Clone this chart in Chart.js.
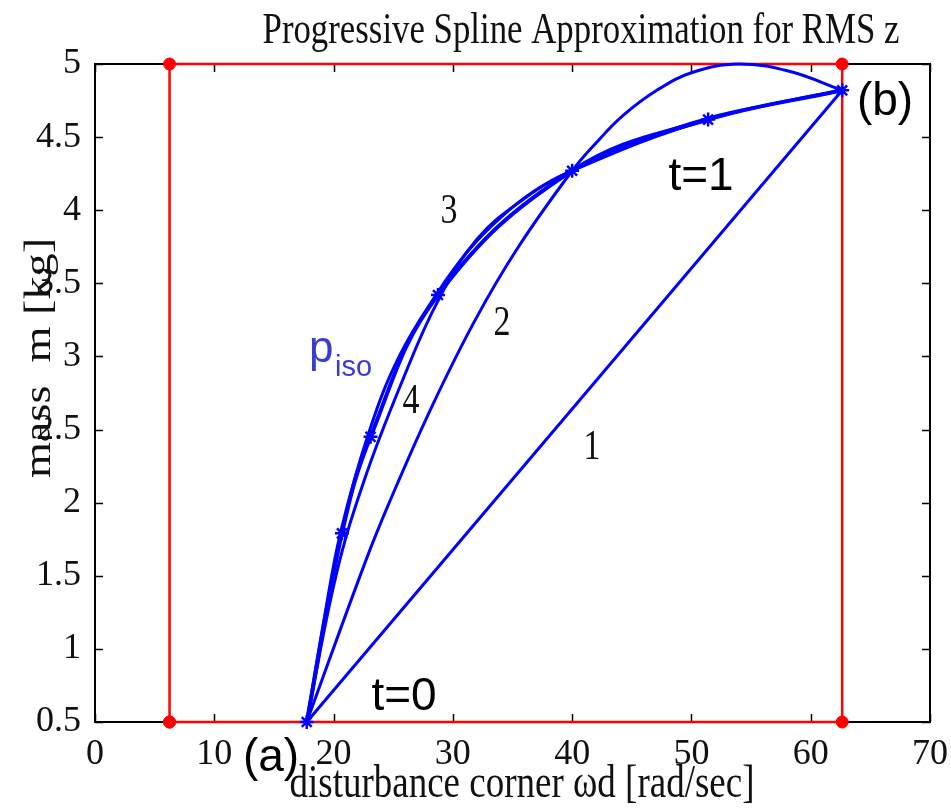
<!DOCTYPE html>
<html>
<head>
<meta charset="utf-8">
<script src="https://cdn.jsdelivr.net/npm/chart.js@4/dist/chart.umd.min.js"></script>
<style>
  html, body { margin: 0; padding: 0; background: #ffffff; }
  #wrap { width: 951px; height: 808px; }
</style>
</head>
<body>
<div id="wrap"><canvas id="c" width="951" height="808"></canvas></div>
<script>
// Axis ticks
const xTicks = [0, 10, 20, 30, 40, 50, 60, 70];
const yTicks = [0.5, 1, 1.5, 2, 2.5, 3, 3.5, 4, 4.5, 5];

// Design box (red): corners of the search region
const boxX = [6.25, 6.25, 62.64, 62.64, 6.25];
const boxY = [0.5, 5, 5, 0.5, 0.5];

// Iteration 1: straight segment between the end points
const line1X = [17.75, 62.64];
const line1Y = [0.5, 4.82];

// Iteration 2
const curve2X = [17.75, 22.64, 24.72, 28.2, 31.81, 35.42, 40.0, 42.0, 44.3, 47.1, 50.0, 54.0, 58.2, 62.64];
const curve2Y = [0.5, 1.59, 2.01, 2.65, 3.24, 3.74, 4.27, 4.46, 4.65, 4.82, 4.94, 5.0, 4.95, 4.82];

// Iteration 3
const curve3X = [17.75, 19.2, 20.6, 23.0, 25.5, 28.75, 31.25, 34.0, 36.8, 40.0, 45.5, 51.4, 57.0, 62.64];
const curve3Y = [0.5, 1.2, 1.8, 2.49, 3.0, 3.44, 3.72, 3.95, 4.13, 4.27, 4.47, 4.63, 4.73, 4.82];

// Iteration 4
const curve4X = [17.75, 20.2, 22.6, 25.8, 28.75, 32.0, 36.0, 40.0, 51.4, 62.64];
const curve4Y = [0.5, 1.5, 2.16, 2.84, 3.38, 3.8, 4.08, 4.27, 4.62, 4.82];

// Converged spline through the knots (t = 0 ... t = 1)
const knotX = [17.75, 20.7, 23.1, 28.75, 40.0, 51.4, 62.64];
const knotY = [0.5, 1.79, 2.45, 3.42, 4.27, 4.62, 4.82];

// End points (a) and (b)
const endX = [17.75, 62.64];
const endY = [0.5, 4.82];

const pts = (xs, ys) => xs.map((x, i) => ({ x, y: ys[i] }));

const BLUE = '#0000ff';
const RED = '#ff0000';
const SERIF = '"Liberation Serif", "Times New Roman", serif';
const SANS = '"Liberation Sans", Arial, sans-serif';

function curve(data, width, order) {
  return {
    data, showLine: true, borderColor: BLUE, backgroundColor: BLUE,
    borderWidth: width, pointRadius: 0, tension: 0.4,
    clip: false, order
  };
}

// Draws the axes box with inward ticks on all four sides
function drawFrame(chart) {
  const { ctx, chartArea: a, scales } = chart;
  const tl = 8;
  ctx.save();
  ctx.strokeStyle = '#000';
  ctx.lineWidth = 2;
  ctx.strokeRect(a.left, a.top, a.right - a.left, a.bottom - a.top);
  ctx.lineWidth = 1.5;
  ctx.beginPath();
  xTicks.forEach(v => {
    const px = Math.round(scales.x.getPixelForValue(v)) + 0.5;
    ctx.moveTo(px, a.bottom); ctx.lineTo(px, a.bottom - tl);
    ctx.moveTo(px, a.top); ctx.lineTo(px, a.top + tl);
  });
  yTicks.forEach(v => {
    const py = Math.round(scales.y.getPixelForValue(v)) + 0.5;
    ctx.moveTo(a.left, py); ctx.lineTo(a.left + tl, py);
    ctx.moveTo(a.right, py); ctx.lineTo(a.right - tl, py);
  });
  ctx.stroke();
  ctx.restore();
}

// Serif text with the tall proportions of the figure's lettering
function serifText(ctx, text, x, y, size, opts = {}) {
  ctx.save();
  ctx.translate(x, y);
  ctx.scale(1, opts.stretch || 1.25);
  ctx.font = size + 'px ' + SERIF;
  ctx.fillStyle = opts.color || '#111';
  ctx.textAlign = opts.align || 'center';
  ctx.textBaseline = opts.baseline || 'alphabetic';
  ctx.fillText(text, 0, 0);
  ctx.restore();
}

function sansText(ctx, text, x, y, size, color, align) {
  ctx.save();
  ctx.font = size + 'px ' + SANS;
  ctx.fillStyle = color || '#000';
  ctx.textAlign = align || 'center';
  ctx.textBaseline = 'alphabetic';
  ctx.fillText(text, x, y);
  ctx.restore();
}

const framePlugin = {
  id: 'frame',
  beforeDatasetsDraw(chart) { drawFrame(chart); },
  afterDraw(chart) {
    const ctx = chart.ctx;
    // title and axis titles
    serifText(ctx, 'Progressive Spline Approximation for RMS z', 581, 43, 34.8, { stretch: 1.3 });
    serifText(ctx, 'disturbance corner \u03c9d [rad/sec]', 522, 797, 37);
    ctx.save();
    ctx.translate(50, 358);
    ctx.rotate(-Math.PI / 2);
    ctx.scale(1.25, 1);
    ctx.font = '37px ' + SERIF;
    ctx.fillStyle = '#111';
    ctx.textAlign = 'center';
    ctx.textBaseline = 'alphabetic';
    ctx.fillText('mass  m [kg]', 0, 0);
    ctx.restore();

    // iteration numbers
    serifText(ctx, '1', 592, 448, 34, { baseline: 'middle' });
    serifText(ctx, '2', 502, 324, 34, { baseline: 'middle' });
    serifText(ctx, '3', 449, 212, 34, { baseline: 'middle' });
    serifText(ctx, '4', 411, 402, 34, { baseline: 'middle' });

    // annotations
    sansText(ctx, '(a)', 271, 771, 46);
    sansText(ctx, '(b)', 885, 115, 46);
    sansText(ctx, 't=0', 404, 710, 46);
    sansText(ctx, 't=1', 701, 190, 46);
    sansText(ctx, 'p', 309, 362, 44, '#3b3bd4', 'left');
    sansText(ctx, 'iso', 335, 376, 29, '#3b3bd4', 'left');
  }
};

new Chart(document.getElementById('c'), {
  type: 'scatter',
  data: {
    datasets: [
      { // knots of the converged spline
        data: pts(knotX, knotY), showLine: false, pointStyle: 'star',
        pointRadius: 7, borderColor: BLUE, backgroundColor: BLUE,
        pointBorderWidth: 2.5, clip: false, order: 0
      },
      {
        data: pts(endX, endY), showLine: false, pointStyle: 'rect',
        pointRadius: 3, borderColor: '#ff00ff', backgroundColor: '#ff00ff',
        pointBorderWidth: 1, clip: false, order: 1
      },
      curve(pts(knotX, knotY), 4, 2),
      curve(pts(curve4X, curve4Y), 3, 3),
      curve(pts(curve3X, curve3Y), 3, 4),
      curve(pts(curve2X, curve2Y), 3, 5),
      curve(pts(line1X, line1Y), 3, 6),
      { // red design box with corner markers
        data: pts(boxX, boxY), showLine: true, borderColor: RED,
        backgroundColor: RED, borderWidth: 2.5, pointRadius: 6,
        pointBorderWidth: 1, pointBorderColor: RED, tension: 0,
        clip: false, order: 7
      }
    ]
  },
  options: {
    responsive: false,
    devicePixelRatio: 1,
    animation: false,
    layout: { padding: { top: 64, right: 16, left: 0, bottom: 0 } },
    plugins: { legend: { display: false }, tooltip: { enabled: false }, title: { display: false } },
    scales: {
      x: {
        type: 'linear', min: 0, max: 70,
        afterBuildTicks: s => { s.ticks = xTicks.map(v => ({ value: v })); },
        afterFit: s => { s.height = 86; },
        grid: { display: false },
        border: { display: false },
        ticks: { font: { family: SERIF, size: 36 }, color: '#111', padding: 3, maxRotation: 0,
                 callback: v => String(v) }
      },
      y: {
        type: 'linear', min: 0.5, max: 5,
        afterBuildTicks: s => { s.ticks = yTicks.map(v => ({ value: v })); },
        afterFit: s => { s.width = 95; },
        grid: { display: false },
        border: { display: false },
        ticks: { font: { family: SERIF, size: 36 }, color: '#111', padding: 6,
                 callback: v => String(v) }
      }
    }
  },
  plugins: [framePlugin]
});
</script>
</body>
</html>
